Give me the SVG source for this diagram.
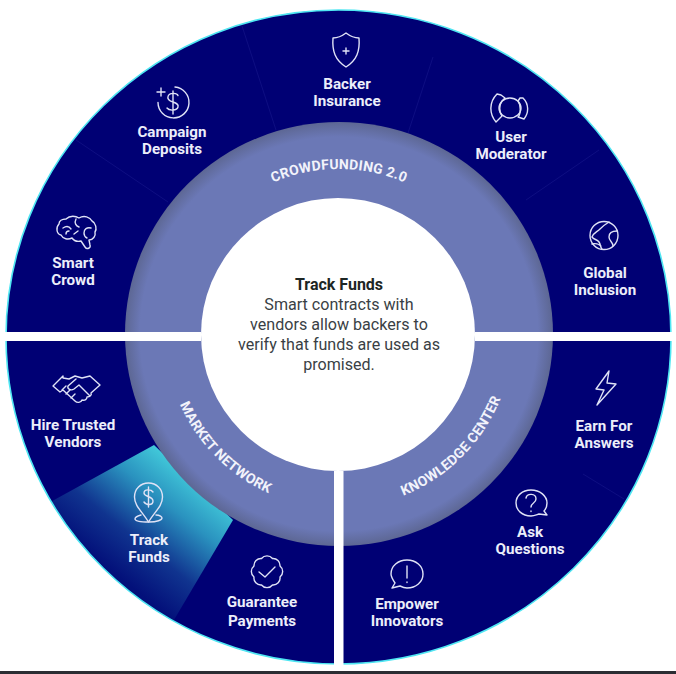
<svg xmlns="http://www.w3.org/2000/svg" width="676" height="674" viewBox="0 0 676 674">
<style>
.lbl{font-family:"Roboto","Liberation Sans",sans-serif;font-weight:700;font-size:15.200px;fill:#eceefa;text-anchor:middle}
.ring{font-family:"Roboto","Liberation Sans",sans-serif;font-weight:700;font-size:14px;fill:#f2f3fb;letter-spacing:.2px}
.body{font-family:"Roboto","Liberation Sans",sans-serif;font-size:16.100px;fill:#3a3f45;text-anchor:middle}
.head{font-family:"Roboto","Liberation Sans",sans-serif;font-weight:700;font-size:16px;fill:#1d2624;text-anchor:middle}
.ico{fill:none;stroke:#dfe2f6;stroke-width:1.400;stroke-linejoin:round;stroke-linecap:round}
.sep{stroke:#0e0e82;stroke-width:1;fill:none}
</style>
<defs>
<radialGradient id="ringFill" cx="50%" cy="50%" r="50%">
<stop offset=".64" stop-color="#6b78b6"/>
<stop offset=".93" stop-color="#6b78b6"/>
<stop offset="1" stop-color="#5d6794"/>
</radialGradient>
<linearGradient id="activeFill" gradientUnits="userSpaceOnUse" x1="202" y1="472" x2="118" y2="576">
<stop offset="0" stop-color="#47d6e0"/>
<stop offset=".35" stop-color="#2a92bf"/>
<stop offset=".7" stop-color="#10348f"/>
<stop offset="1" stop-color="#03107a"/>
</linearGradient>
<clipPath id="outerClip"><ellipse cx="338.500" cy="337" rx="332.500" ry="327"/></clipPath>
<path id="arcTop" d="M173 334A166 165 0 0 1 505 334"/>
<path id="arcLeft" d="M165 334A174 174 0 0 0 339 508"/>
<path id="arcRight" d="M339 508A174 174 0 0 0 513 334"/>
</defs>

<rect width="676" height="674" fill="#fff"/>

<g id="wheel">
<ellipse cx="338.500" cy="337" rx="332.500" ry="327" fill="#000074"/>
<polygon points="154,445 233,520 158,647 25,516" fill="url(#activeFill)" clip-path="url(#outerClip)"/>
<ellipse cx="338.500" cy="337" rx="332.500" ry="327" fill="none" stroke="#4fe6f2" stroke-width="1.600"/>
<ellipse cx="339" cy="334" rx="214" ry="212" fill="url(#ringFill)"/>
<ellipse cx="338" cy="334.500" rx="137" ry="136.500" fill="#fff"/>
</g>

<g id="connectors">
<path class="sep" d="M76 140L168 202M242 26L276 130M433 57L408 133M599 150L526 200M583 474L624 499"/>
</g>

<g id="gaps" fill="#fff">
<rect x="0" y="332" width="201" height="9"/>
<rect x="475" y="332" width="201" height="9"/>
<rect x="334" y="471" width="9.500" height="196"/>
</g>

<rect id="base-line" x="0" y="671" width="676" height="3" fill="#2b2d33"/>

<g id="ring-labels">
<text class="ring"><textPath href="#arcTop" startOffset="50%" text-anchor="middle">CROWDFUNDING 2.0</textPath></text>
<text class="ring"><textPath href="#arcLeft" startOffset="50%" text-anchor="middle">MARKET NETWORK</textPath></text>
<text class="ring"><textPath href="#arcRight" startOffset="50%" text-anchor="middle">KNOWLEDGE CENTER</textPath></text>
</g>

<g id="center-copy">
<text class="head" x="339" y="290">Track Funds</text>
<text class="body" x="339" y="310">Smart contracts with</text>
<text class="body" x="339" y="330">vendors allow backers to</text>
<text class="body" x="339" y="350">verify that funds are used as</text>
<text class="body" x="339" y="370">promised.</text>
</g>

<g id="smart-crowd">
<path class="ico" d="M66 219c4-4 10-3 13-1 5-3 11-1 13 3 4 2 5 8 3 11 1 4-2 8-6 8l1 5c1 3-3 5-5 2l-4-6c-4 1-7 0-9-3-4 2-9 1-11-3-5-1-5-8-2-11 0-3 3-5 7-5zM63 228c3-2 6-2 8 1M76 219c-2 4 0 7 3 8M74 234l4-3M91 228c-4-1-7 1-7 5 0 2 1 4 3 5M66 234c0-2 1-3 3-3"/>
<text class="lbl" x="73" y="268">Smart</text><text class="lbl" x="73" y="285">Crowd</text>
</g>
<g id="campaign-deposits">
<path class="ico" d="M175 87a15.500 15.500 0 1 1-17 15.500M178 95.500c-1-3-9-3-10 1-1 3 2 4.500 5 5.500 3 1 6 2 5 5-1 4-9 4-11 1M173 91v23M161 88v8M157 92h8"/>
<text class="lbl" x="172" y="137">Campaign</text><text class="lbl" x="172" y="154">Deposits</text>
</g>
<g id="backer-insurance">
<path class="ico" d="M346 33c4 3 8 5 13 5 1 13-2 22-13 29-11-7-14-16-13-29 5 0 9-2 13-5zM346 48v6M343 51h6"/>
<text class="lbl" x="347" y="89">Backer</text><text class="lbl" x="347" y="106">Insurance</text>
</g>
<g id="user-moderator">
<ellipse class="ico" cx="510" cy="108" rx="11" ry="10"/>
<path class="ico" d="M497 94c-8 8-8 20-1 28l6-6c-3-4-3-11 0-15l3-3-4-3zM523 98c6 6 6 15 1 21l-6-2c3-3 3-12 0-16l2-3z"/>
<text class="lbl" x="511" y="142">User</text><text class="lbl" x="511" y="159">Moderator</text>
</g>
<g id="global-inclusion">
<circle class="ico" cx="604" cy="235.500" r="14"/>
<path class="ico" d="M609 222c-5 3-7 5-9 7-3 3-7 4-8 8 2 3 5 2 7 5 2 3 1 5 3 7M617 231c-5 0-8 2-8 6 0 4 4 5 4 9M592 244c3-1 7 0 9 2"/>
<text class="lbl" x="605" y="278">Global</text><text class="lbl" x="605" y="295">Inclusion</text>
</g>
<g id="hire-trusted-vendors">
<path class="ico" d="M63 376l-10 10 7 6 3-2 12 11c2 2 6 2 7-1 3 1 5-1 5-3 3 0 5-2 4-4l9-8-10-9-8 2-7-2-6 3-6-1zM76 379l-8 7c-1 3 3 5 6 3l5-4 11 11M62 390l4-4M66 394l4-4M71 398l4-4M90 376l10 9"/>
<text class="lbl" x="73" y="430">Hire Trusted</text><text class="lbl" x="73" y="447">Vendors</text>
</g>
<g id="track-funds">
<path class="ico" d="M148.500 483c8 0 14 6 14 14 0 9-8 15-14 25-6-10-14-16-14-25 0-8 6-14 14-14z"/>
<path class="ico" d="M153 492c-2-3-9-3-9 1s9 3 9 8-7 4-9 1M148.500 487v20M141 515c-4 1-6 3-6 4 0 2 6 3 14 3s13-2 13-4c0-1-2-3-6-3"/>
<text class="lbl" x="149" y="545">Track</text><text class="lbl" x="149" y="562">Funds</text>
</g>
<g id="guarantee-payments">
<path class="ico" d="M261.500 558.500A7 7 0 0 1 272.500 558.500A7 7 0 0 1 280 566A7 7 0 0 1 280 577A7 7 0 0 1 272.500 585A7 7 0 0 1 261.500 585A7 7 0 0 1 254 577A7 7 0 0 1 254 566A7 7 0 0 1 261.500 558.500z"/>
<path class="ico" d="M259 572l6 5 10-10"/>
<text class="lbl" x="262" y="607">Guarantee</text><text class="lbl" x="262" y="626">Payments</text>
</g>
<g id="earn-for-answers">
<path class="ico" d="M609 371l-13 18 8 1-7 15 19-21-9-1z"/>
<text class="lbl" x="604" y="431">Earn For</text><text class="lbl" x="604" y="448">Answers</text>
</g>
<g id="ask-questions">
<path class="ico" d="M531 490c9 0 16 6 16 13 0 3-1 6-3 8l3 4-8-1c-3 1-5 2-8 2-9 0-15-6-15-13s6-13 15-13z"/>
<path class="ico" d="M526 498c1-5 10-5 10 1 0 4-5 4-5 8M531 511v.5"/>
<text class="lbl" x="530" y="537">Ask</text><text class="lbl" x="530" y="554">Questions</text>
</g>
<g id="empower-innovators">
<path class="ico" d="M407 560c9 0 16 6 16 14s-7 14-16 14c-3 0-5-1-7-2l-8 2 3-5c-2-3-4-6-4-9 0-8 7-14 16-14z"/>
<path class="ico" d="M407 566v12M407 582v.5"/>
<text class="lbl" x="407" y="609">Empower</text><text class="lbl" x="407" y="626">Innovators</text>
</g>
</svg>
